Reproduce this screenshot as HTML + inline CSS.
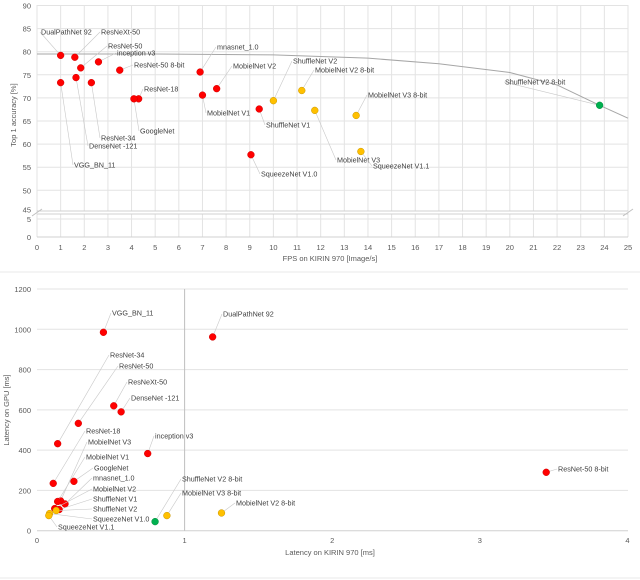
<!DOCTYPE html>
<html><head><meta charset="utf-8"><style>
body{margin:0;background:#fff;width:640px;height:580px;overflow:hidden}
svg{display:block;font-family:"Liberation Sans",sans-serif}
</style></head><body>
<svg id="c" width="640" height="580"></svg>
<script>
// ---- Top chart data ----
const topNames=["DualPathNet 92","ResNeXt-50","ResNet-50","inception v3","ResNet-50 8-bit","VGG_BN_11","DenseNet -121","ResNet-34","ResNet-18","GoogleNet","mnasnet_1.0","MobielNet V1","MobielNet V2","ShuffleNet V1","SqueezeNet V1.0","ShuffleNet V2","MobielNet V2 8-bit","MobielNet V3","MobielNet V3 8-bit","SqueezeNet V1.1","ShuffleNet V2 8-bit"];
const topFps=[1.0,1.6,1.85,2.6,3.5,1.0,1.65,2.3,4.3,4.1,6.9,7.0,7.6,9.4,9.05,10.0,11.2,11.75,13.5,13.7,23.8];
const topAcc=[79.2,78.8,76.5,77.8,76.0,73.3,74.4,73.3,69.8,69.8,75.6,70.6,72.0,67.6,57.7,69.4,71.6,67.3,66.2,58.4,68.4];
const topColor=["r","r","r","r","r","r","r","r","r","r","r","r","r","r","r","y","y","y","y","y","g"];
const topXTicks=[0,1,2,3,4,5,6,7,8,9,10,11,12,13,14,15,16,17,18,19,20,21,22,23,24,25];
const topYTicks=[90,85,80,75,70,65,60,55,50,45];
const frontFps=[0,5,10,14,17,20,22,23.8,25];
const frontAcc=[79.5,79.5,79.3,78.6,77.4,75.5,72.8,68.4,65.6];
const topLabelPx=[[41,32],[101,32],[108,46],[117,53],[134,65],[74,165],[89,146],[101,138],[144,89],[140,131],[217,47],[207,113],[233,66],[266,125],[261,174],[293,61],[315,70],[337,160],[368,95],[373,166],[505,82]];
// ---- Bottom chart data ----
const botNames=["VGG_BN_11","DualPathNet 92","ResNet-34","ResNet-50","ResNeXt-50","DenseNet -121","ResNet-18","inception v3","MobielNet V3","MobielNet V1","GoogleNet","mnasnet_1.0","MobielNet V2","ShuffleNet V1","ShuffleNet V2","SqueezeNet V1.0","SqueezeNet V1.1","ShuffleNet V2 8-bit","MobielNet V3 8-bit","MobielNet V2 8-bit","ResNet-50 8-bit"];
const botCpu=[0.45,1.19,0.14,0.28,0.52,0.57,0.11,0.75,0.16,0.14,0.25,0.19,0.12,0.15,0.13,0.085,0.08,0.8,0.88,1.25,3.45];
const botGpu=[985,962,432,533,620,590,235,383,148,145,245,133,110,105,100,85,75,45,75,88,290];
const botColor=["r","r","r","r","r","r","r","r","r","r","r","r","r","r","y","y","y","g","y","y","r"];
const botXTicks=[0,1,2,3,4];
const botYTicks=[0,200,400,600,800,1000,1200];
const botLabelPx=[[112,313],[223,314],[110,355],[119,366],[128,382],[131,398],[86,431],[155,436],[88,442],[86,457],[94,468],[93,478],[93,489],[93,499],[93,509],[93,519],[58,527],[182,479],[182,493],[236,503],[558,469]];

const fill={r:"#ff0000",y:"#ffc000",g:"#00b050"};
const stroke={r:"#d00000",y:"#c89600",g:"#008a3a"};
const svg=document.getElementById('c');
const NS="http://www.w3.org/2000/svg";
function mk(t,a,p){const e=document.createElementNS(NS,t);for(const k in a)e.setAttribute(k,a[k]);(p||svg).appendChild(e);return e;}

const tx=v=>37+v*23.64;
const ty=v=>v>=45?5.5+(90-v)*4.62:237-v*3.6;
const by=v=>530.7-v*241.7/1200;
const bx=v=>37+v*147.6;

for(const t of topXTicks){
 const l=mk('line',{x1:tx(t),x2:tx(t),y1:5,y2:237,stroke:"#e3e3e3","stroke-width":1});
 
 const s=mk('text',{x:tx(t),y:250,"font-size":7.5,fill:"#595959","text-anchor":"middle"});s.textContent=t;
 
}
for(const t of topYTicks){
 const l=mk('line',{x1:37,x2:628,y1:ty(t),y2:ty(t),stroke:"#e3e3e3"});
 
 const s=mk('text',{x:31,y:ty(t)+(t===45?-1:3),"font-size":7.5,fill:"#595959","text-anchor":"end"});s.textContent=t;
 
}
for(const t of [5,0]){
 const l=mk('line',{x1:37,x2:628,y1:ty(t),y2:ty(t),stroke:t?"#e3e3e3":"#d0d0d0"});
 
 const s=mk('text',{x:31,y:ty(t)+3,"font-size":7.5,fill:"#595959","text-anchor":"end"});s.textContent=t;
 
}
{const b=mk('rect',{x:37,y:211,width:591,height:3,fill:"#fff"});
 
 for(const yy of [211,214]){const l=mk('line',{x1:37,x2:628,y1:yy,y2:yy,stroke:"#d0d0d0"});
  }
 for(const xx of [37,628]){const l=mk('line',{x1:xx-5,x2:xx+5,y1:216,y2:209,stroke:"#c0c0c0"});
  }}
{let d="";frontFps.forEach((f,i)=>d+=(i?"L":"M")+tx(f)+","+ty(frontAcc[i]));
 const p=mk('path',{d:d,fill:"none",stroke:"#a6a6a6","stroke-width":1});
 }
topNames.forEach((n,i)=>{
 const px=tx(topFps[i]),py=ty(topAcc[i]);const [lx,ly]=topLabelPx[i];
 const ln=mk('line',{x1:lx-1,y1:ly,x2:px,y2:py,stroke:"#c8c8c8","stroke-width":0.6});
 
 const c=mk('circle',{cx:px,cy:py,r:3.4,fill:fill[topColor[i]],stroke:stroke[topColor[i]],"stroke-width":0.5});
 
 const t=mk('text',{x:lx,y:ly+2.5,"font-size":7.2,fill:"#404040"});t.textContent=n;
 
});
{const t=mk('text',{x:330,y:261,"font-size":7.5,fill:"#595959","text-anchor":"middle"});t.textContent="FPS on KIRIN 970 [Image/s]";
 
 const y=mk('text',{x:0,y:0,"font-size":7.5,fill:"#595959","text-anchor":"middle",transform:"translate(16,115) rotate(-90)"});y.textContent="Top 1 accuracy [%]";
 }
{const l=mk('line',{x1:0,x2:640,y1:272,y2:272,stroke:"#e8e8e8"});
 const l2=mk('line',{x1:0,x2:640,y1:578,y2:578,stroke:"#e8e8e8"});}

for(const t of botYTicks){
 const l=mk('line',{x1:37,x2:628,y1:by(t),y2:by(t),stroke:t?"#e3e3e3":"#d0d0d0"});
 
 const s=mk('text',{x:31,y:by(t)+3,"font-size":7.5,fill:"#595959","text-anchor":"end"});s.textContent=t;
 
}
for(const t of botXTicks){
 const s=mk('text',{x:bx(t),y:543,"font-size":7.5,fill:"#595959","text-anchor":"middle"});s.textContent=t;
 
}
{const l=mk('line',{x1:bx(1),x2:bx(1),y1:by(1200),y2:by(0),stroke:"#bfbfbf"});
 }
botNames.forEach((n,i)=>{
 const px=bx(botCpu[i]),py=by(botGpu[i]);const [lx,ly]=botLabelPx[i];
 const ln=mk('line',{x1:lx-1,y1:ly,x2:px,y2:py,stroke:"#c8c8c8","stroke-width":0.6});
 
 const c=mk('circle',{cx:px,cy:py,r:3.4,fill:fill[botColor[i]],stroke:stroke[botColor[i]],"stroke-width":0.5});
 
 const t=mk('text',{x:lx,y:ly+2.5,"font-size":7.2,fill:"#404040"});t.textContent=n;
 
});
{const t=mk('text',{x:330,y:555,"font-size":7.5,fill:"#595959","text-anchor":"middle"});t.textContent="Latency on KIRIN 970 [ms]";
 
 const y=mk('text',{x:0,y:0,"font-size":7.5,fill:"#595959","text-anchor":"middle",transform:"translate(9,410) rotate(-90)"});y.textContent="Latency on GPU [ms]";
 }
</script>
</body></html>
